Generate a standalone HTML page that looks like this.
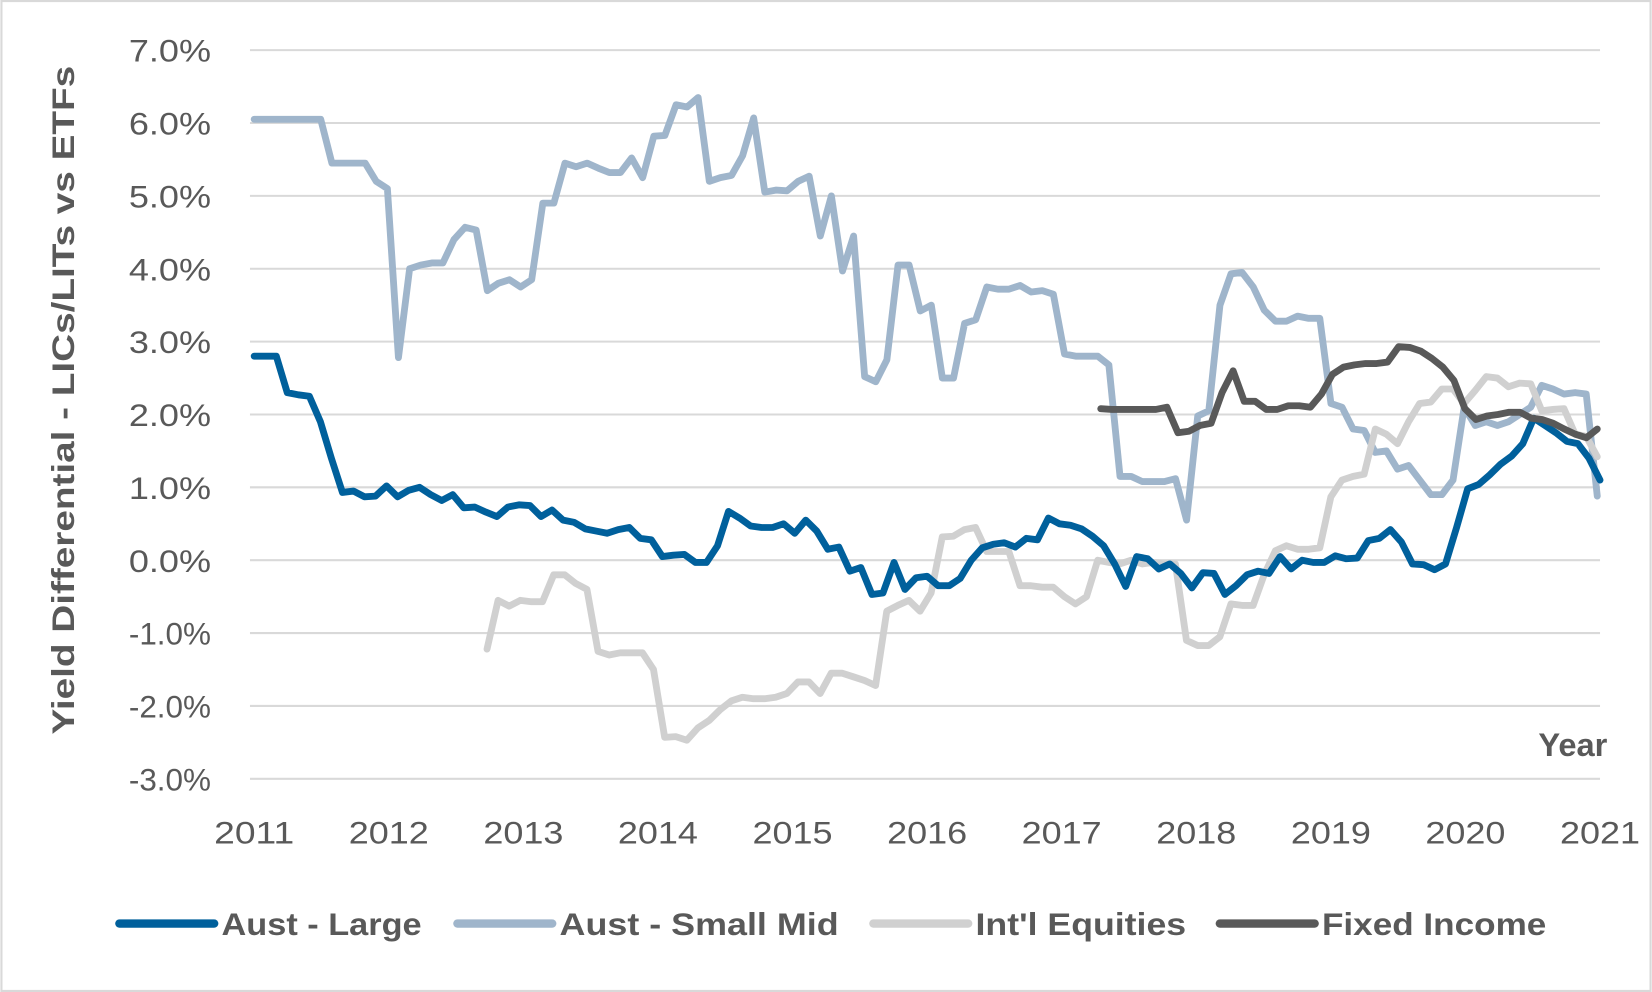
<!DOCTYPE html>
<html><head><meta charset="utf-8"><style>
html,body{margin:0;padding:0;background:#fff;}
svg{display:block;font-family:"Liberation Sans",sans-serif;}
</style></head><body>
<svg id="chart" width="1652" height="992" viewBox="0 0 1568 942" xmlns="http://www.w3.org/2000/svg">
<rect x="1" y="1" width="1566" height="940" fill="#fff" stroke="#d9d9d9" stroke-width="2"/>
<g id="grid"></g>
<g id="ylabels" fill="#595959" font-size="30" text-anchor="end"></g>
<g id="xlabels" fill="#595959" font-size="30" text-anchor="middle"></g>
<g id="lines"></g>
<text transform="translate(70,380) rotate(-90)" text-anchor="middle" font-size="30" font-weight="bold" fill="#595959" textLength="635" lengthAdjust="spacingAndGlyphs">Yield Differential - LICs/LITs vs ETFs</text>
<text x="1526" y="718" text-anchor="end" font-size="31" font-weight="bold" fill="#595959">Year</text>
<g id="legend" font-size="30" font-weight="bold" fill="#595959"></g>
</svg>
<script>
const yTicks=[7,6,5,4,3,2,1,0,-1,-2,-3];
const xTicks=[2011,2012,2013,2014,2015,2016,2017,2018,2019,2020,2021];
const seriesNames=["Aust - Large","Aust - Small Mid","Int'l Equities","Fixed Income"];
const largeRange=[2011,2021];
const largeVals=[2.8,2.8,2.8,2.3,2.27,2.25,1.9,1.4,0.93,0.95,0.87,0.88,1.02,0.87,0.96,1.0,0.9,0.82,0.9,0.72,0.73,0.66,0.6,0.73,0.76,0.75,0.6,0.69,0.55,0.52,0.43,0.4,0.37,0.42,0.45,0.3,0.28,0.05,0.07,0.08,-0.03,-0.03,0.2,0.67,0.58,0.47,0.45,0.45,0.5,0.37,0.55,0.4,0.15,0.18,-0.15,-0.1,-0.47,-0.45,-0.03,-0.4,-0.24,-0.22,-0.35,-0.35,-0.25,0.0,0.17,0.22,0.24,0.18,0.3,0.28,0.58,0.5,0.48,0.43,0.33,0.2,-0.05,-0.36,0.05,0.02,-0.12,-0.05,-0.18,-0.38,-0.17,-0.18,-0.47,-0.35,-0.2,-0.15,-0.18,0.05,-0.12,0.0,-0.03,-0.03,0.06,0.02,0.03,0.27,0.3,0.42,0.25,-0.05,-0.06,-0.13,-0.05,0.45,0.98,1.04,1.17,1.32,1.43,1.6,1.95,1.85,1.75,1.63,1.6,1.4,1.1];
const smallRange=[2011,2020.98];
const smallVals=[6.05,6.05,6.05,6.05,6.05,6.05,6.05,5.45,5.45,5.45,5.45,5.2,5.1,2.78,4.0,4.05,4.08,4.08,4.4,4.57,4.53,3.7,3.8,3.85,3.75,3.85,4.9,4.9,5.45,5.4,5.45,5.38,5.32,5.32,5.52,5.25,5.82,5.83,6.25,6.22,6.35,5.2,5.25,5.28,5.55,6.07,5.05,5.08,5.07,5.2,5.27,4.45,5.0,3.97,4.45,2.52,2.45,2.75,4.05,4.05,3.42,3.5,2.5,2.5,3.25,3.3,3.75,3.72,3.72,3.77,3.68,3.7,3.65,2.83,2.8,2.8,2.8,2.68,1.15,1.15,1.08,1.08,1.08,1.12,0.55,1.98,2.05,3.5,3.93,3.95,3.75,3.43,3.28,3.28,3.35,3.32,3.32,2.15,2.1,1.8,1.78,1.48,1.5,1.25,1.3,1.1,0.9,0.9,1.1,2.1,1.85,1.9,1.85,1.9,2.0,2.1,2.4,2.35,2.28,2.3,2.28,0.88];
const intlRange=[2012.73,2020.98];
const intlVals=[-1.22,-0.55,-0.63,-0.55,-0.57,-0.57,-0.2,-0.2,-0.32,-0.4,-1.25,-1.3,-1.27,-1.27,-1.27,-1.5,-2.43,-2.42,-2.47,-2.3,-2.2,-2.05,-1.93,-1.88,-1.9,-1.9,-1.88,-1.83,-1.67,-1.67,-1.83,-1.55,-1.55,-1.6,-1.65,-1.72,-0.7,-0.62,-0.55,-0.7,-0.45,0.32,0.33,0.42,0.45,0.12,0.12,0.12,-0.35,-0.35,-0.37,-0.37,-0.5,-0.6,-0.5,0.0,-0.03,-0.05,0.0,-0.05,-0.03,-0.05,-0.05,-1.1,-1.17,-1.17,-1.05,-0.6,-0.62,-0.62,-0.2,0.13,0.2,0.15,0.15,0.17,0.87,1.1,1.15,1.18,1.8,1.73,1.6,1.9,2.15,2.17,2.35,2.35,2.15,2.33,2.52,2.5,2.38,2.43,2.42,2.05,2.07,2.08,1.73,1.7,1.42];
const fixedRange=[2017.29,2020.98];
const fixedVals=[2.08,2.07,2.07,2.07,2.07,2.07,2.1,1.75,1.77,1.85,1.88,2.3,2.6,2.18,2.18,2.07,2.07,2.12,2.12,2.1,2.28,2.55,2.65,2.68,2.7,2.7,2.72,2.93,2.92,2.87,2.77,2.65,2.47,2.08,1.93,1.98,2.0,2.03,2.03,1.95,1.93,1.88,1.8,1.73,1.68,1.8];

const NS="http://www.w3.org/2000/svg";
const X=y=>241+(y-2011)*127.8;
const Y=v=>532-v*69.2;
const colors=["#00609c","#9fb5cb","#d0d0d0","#595959"];
function mk(tag,attrs,parent){const e=document.createElementNS(NS,tag);for(const k in attrs)e.setAttribute(k,attrs[k]);parent.appendChild(e);return e;}
const grid=document.getElementById('grid'),yl=document.getElementById('ylabels'),xl=document.getElementById('xlabels');
yTicks.forEach(v=>{
  const l=mk('line',{x1:237,x2:1519,y1:Y(v),y2:Y(v),stroke:'#d9d9d9','stroke-width':2},grid);
  
  
  const t=mk('text',{x:200,y:Y(v)+11,textLength:78,lengthAdjust:'spacingAndGlyphs'},yl);t.textContent=v.toFixed(1)+'%';
  
  
});
xTicks.forEach(y=>{
  const t=mk('text',{x:X(y),y:801,textLength:76,lengthAdjust:'spacingAndGlyphs'},xl);t.textContent=y;
  
  
});
const sets=[[largeRange,largeVals],[smallRange,smallVals],[intlRange,intlVals],[fixedRange,fixedVals]];
const order=[1,2,0,3];
const lines=document.getElementById('lines');
const slugs=["aust-large-line","aust-small-mid-line","intl-equities-line","fixed-income-line"];
order.forEach(i=>{
  const [r,vals]=sets[i];const n=vals.length;
  const pts=vals.map((v,k)=>X(r[0]+(r[1]-r[0])*k/(n-1)).toFixed(1)+','+Y(v).toFixed(1)).join(' ');
  const p=mk('polyline',{points:pts,fill:'none',stroke:colors[i],'stroke-width':6.5,'stroke-linejoin':'round','stroke-linecap':'round'},lines);
  
  
});
const lg=document.getElementById('legend');
const lx=[113,434,829,1158],tl=[190,265,200,213];
seriesNames.forEach((s,i)=>{
  const g=mk('g',{},lg);
  
  
  mk('line',{x1:lx[i],x2:lx[i]+90,y1:877,y2:877,stroke:colors[i],'stroke-width':8,'stroke-linecap':'round'},g);
  const t=mk('text',{x:lx[i]+97,y:888,textLength:tl[i],lengthAdjust:'spacingAndGlyphs'},g);t.textContent=s;
});
</script>
</body></html>
